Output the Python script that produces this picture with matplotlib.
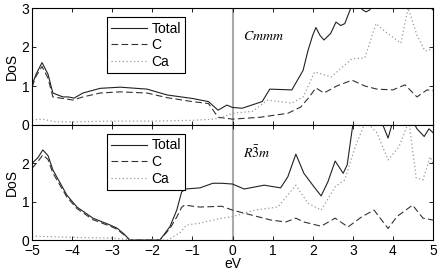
import matplotlib
matplotlib.use("Agg")
import matplotlib.pyplot as plt

plt.rcParams['font.family'] = ['Liberation Sans', 'DejaVu Sans']
plt.rcParams['mathtext.fontset'] = 'stix'

# Cmmm panel
x_top_total = [-5, -4.9, -4.75, -4.6, -4.48, -4.23, -4.1, -3.95, -3.73, -3.3, -2.8, -2.13, -1.63, -1.0, -0.6, -0.36, -0.14, 0.0, 0.24, 0.74, 0.93, 1.48, 1.76, 1.88, 2.0, 2.08, 2.18, 2.28, 2.45, 2.58, 2.7, 2.8, 2.95, 3.1, 3.25, 3.33, 3.42, 3.6, 4.0, 4.5, 4.85, 5.0]
y_top_total = [1.02, 1.3, 1.6, 1.3, 0.82, 0.72, 0.72, 0.69, 0.82, 0.94, 0.97, 0.92, 0.77, 0.68, 0.6, 0.38, 0.51, 0.45, 0.43, 0.6, 0.92, 0.9, 1.4, 1.9, 2.3, 2.5, 2.3, 2.18, 2.35, 2.64, 2.55, 2.6, 3.0, 3.1, 2.95, 2.9, 2.95, 3.2, 3.3, 3.4, 3.1, 2.95]
x_top_c = [-5, -4.9, -4.75, -4.6, -4.48, -4.23, -3.98, -3.73, -3.3, -2.8, -2.13, -1.63, -1.0, -0.6, -0.36, 0.0, 0.7, 1.38, 1.7, 1.9, 2.08, 2.28, 2.6, 2.98, 3.3, 3.6, 4.0, 4.3, 4.6, 4.85, 5.0]
y_top_c = [0.97, 1.25, 1.5, 1.2, 0.72, 0.68, 0.64, 0.72, 0.82, 0.85, 0.82, 0.7, 0.6, 0.55, 0.2, 0.15, 0.2, 0.3, 0.46, 0.7, 0.95, 0.82, 1.0, 1.15, 1.0, 0.92, 0.9, 1.03, 0.72, 0.9, 0.88]
x_top_ca = [-5, -4.75, -4.4, -4.0, -3.0, -2.0, -1.0, -0.5, -0.3, 0.0, 0.5, 0.88, 1.48, 1.76, 2.05, 2.46, 2.98, 3.3, 3.58, 3.8, 4.2, 4.38, 4.6, 4.8, 5.0]
y_top_ca = [0.13, 0.15, 0.08, 0.08, 0.1, 0.1, 0.12, 0.15, 0.18, 0.3, 0.35, 0.64, 0.56, 0.72, 1.36, 1.23, 1.7, 1.72, 2.6, 2.4, 2.1, 3.0, 2.3, 1.9, 1.95]

# R-3m panel
x_bot_total = [-5, -4.85, -4.73, -4.6, -4.48, -4.13, -3.88, -3.48, -3.05, -2.88, -2.7, -2.56, -1.81, -1.56, -1.39, -1.27, -1.18, -0.81, -0.49, -0.27, 0.0, 0.29, 0.79, 1.2, 1.38, 1.58, 1.78, 2.03, 2.21, 2.38, 2.56, 2.76, 2.86, 3.0, 3.3, 3.75, 3.88, 4.0, 4.4, 4.6, 4.78, 4.9, 5.0]
y_bot_total = [2.0, 2.15, 2.35, 2.2, 1.83, 1.17, 0.86, 0.57, 0.39, 0.31, 0.15, 0.0, 0.0, 0.35, 0.78, 1.25, 1.33, 1.36, 1.48, 1.48, 1.46, 1.33, 1.43, 1.36, 1.65, 2.24, 1.74, 1.39, 1.15, 1.52, 2.06, 1.74, 1.96, 3.0, 3.3, 3.0, 2.66, 3.1, 3.3, 2.9, 2.7, 2.9, 2.8]
x_bot_c = [-5, -4.85, -4.73, -4.6, -4.48, -4.13, -3.88, -3.48, -3.05, -2.88, -2.7, -2.56, -1.81, -1.56, -1.39, -1.27, -1.2, -0.81, -0.27, 0.0, 0.29, 0.96, 1.33, 1.58, 1.78, 2.21, 2.56, 2.88, 3.23, 3.53, 3.88, 4.1, 4.49, 4.75, 5.0]
y_bot_c = [1.87, 2.05, 2.22, 2.1, 1.75, 1.12, 0.82, 0.53, 0.36, 0.28, 0.13, 0.0, 0.0, 0.3, 0.6, 0.85, 0.91, 0.86, 0.88, 0.78, 0.7, 0.52, 0.47, 0.57, 0.47, 0.36, 0.57, 0.34, 0.61, 0.78, 0.3, 0.61, 0.91, 0.57, 0.52]
x_bot_ca = [-5, -4.0, -3.0, -2.5, -1.6, -1.3, -1.15, -0.81, -0.27, 0.0, 0.55, 1.13, 1.58, 1.88, 2.21, 2.56, 2.8, 3.06, 3.32, 3.6, 3.88, 4.15, 4.4, 4.58, 4.75, 4.93, 5.0]
y_bot_ca = [0.1, 0.07, 0.05, 0.0, 0.0, 0.2, 0.39, 0.44, 0.57, 0.61, 0.78, 0.86, 1.43, 0.96, 0.78, 1.39, 1.57, 2.43, 3.1, 2.8, 2.09, 2.43, 3.1, 1.62, 1.57, 2.17, 2.0]

labels = ['Total', 'C', 'Ca']
panel_names = ['$Cmmm$', r'$R\bar{3}m$']
yticks_top = [0, 1, 2, 3]
yticks_bot = [0, 1, 2]
xticks = [-5, -4, -3, -2, -1, 0, 1, 2, 3, 4, 5]
xticklabels = ['\u22125', '\u22124', '\u22123', '\u22122', '\u22121', '0', '1', '2', '3', '4', '5']

fig = plt.figure(figsize=(4.43, 2.75), dpi=100)
W, H = 443, 275
ax1 = fig.add_axes([32 / W, 1 - 125 / H, 401 / W, 117 / H])
ax2 = fig.add_axes([32 / W, 1 - 240 / H, 401 / W, 115 / H])

data = [
    ((x_top_total, y_top_total), (x_top_c, y_top_c), (x_top_ca, y_top_ca)),
    ((x_bot_total, y_bot_total), (x_bot_c, y_bot_c), (x_bot_ca, y_bot_ca)),
]
styles = [dict(color='#222222', ls='-', lw=0.8),
          dict(color='#333333', ls=(0, (6, 3)), lw=0.8),
          dict(color='#999999', ls=(0, (1, 2)), lw=0.9)]

for ax, series, name, yt in zip([ax1, ax2], data, panel_names, [yticks_top, yticks_bot]):
    ax.axvline(0, color='#aaaaaa', lw=1.5, zorder=1)
    for (xs, ys), st, lab in zip(series, styles, labels):
        ax.plot(xs, ys, label=lab, zorder=2, **st)
    ax.set_xlim(-5, 5)
    ax.set_ylim(0, 3)
    ax.set_xticks(xticks)
    ax.set_yticks(yt)
    ax.tick_params(direction='in', top=True, right=True, length=3, width=0.6,
                   labelsize=10, pad=2)
    for sp in ax.spines.values():
        sp.set_linewidth(0.8)
    ax.set_ylabel('DoS', fontsize=10, labelpad=2)
    leg = ax.legend(loc='upper left', bbox_to_anchor=(0.187, 0.92), fontsize=10,
                    fancybox=False, edgecolor='black', framealpha=1,
                    handlelength=2.6, borderpad=0.3, labelspacing=0.2,
                    handletextpad=0.3, borderaxespad=0)
    leg.get_frame().set_linewidth(0.8)
    ax.text(0.525, 0.76, name, transform=ax.transAxes, fontsize=10, va='center')

ax1.tick_params(labelbottom=False)
ax2.set_xticklabels(xticklabels)
ax2.tick_params(axis='x', pad=3)
ax2.set_xlabel('eV', fontsize=10, labelpad=-1)

fig.savefig('out.png', dpi=100)
